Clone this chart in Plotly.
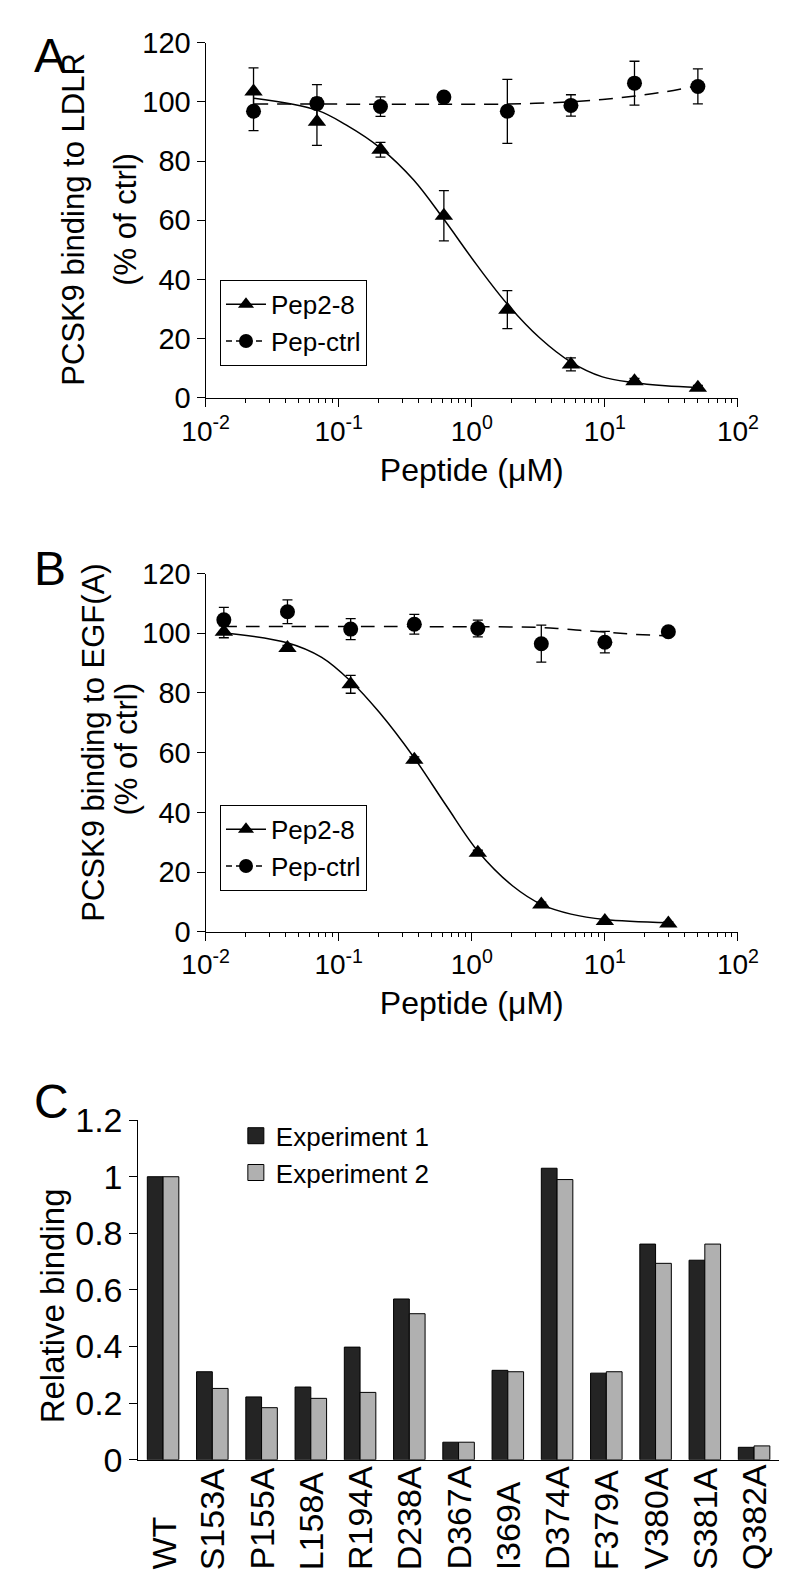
import plotly.graph_objects as go

# ---------------- Panel A data (PCSK9 binding to LDLR) ----------------
conc_a = [0.0229, 0.0686, 0.206, 0.617, 1.85, 5.56, 16.7, 50.0]
pep28_a = [103.5, 93.3, 83.8, 61.5, 29.8, 11.3, 5.6, 3.4]
pep28_a_err = [8.0, 8.0, 2.5, 8.5, 6.4, 2.2, 1.0, 0.8]
ctrl_a = [96.8, 99.4, 98.4, 101.6, 96.8, 98.8, 106.3, 105.2]
ctrl_a_err = [6.5, 6.4, 3.3, 0.8, 10.8, 3.6, 7.4, 5.9]
fit_x_a = [0.0231, 0.0685, 0.1135, 0.207, 0.366, 0.615, 1.086, 1.84, 3.23, 5.56, 9.59, 16.3, 28.5, 49.9]
fit_pep28_a = [101.2, 97.2, 92.2, 84.3, 73.6, 60.4, 45.0, 31.8, 20.3, 12.1, 7.1, 5.2, 4.1, 3.5]
fit_ctrl_x_a = [0.0231, 0.2, 1.5, 3.0, 5.56, 9.6, 16.3, 28.5, 49.9]
fit_ctrl_a = [99.3, 99.2, 99.2, 99.5, 100.0, 100.8, 101.9, 103.4, 105.5]

# ---------------- Panel B data (PCSK9 binding to EGF(A)) ----------------
conc_b = [0.0137, 0.0412, 0.123, 0.370, 1.11, 3.33, 10.0, 30.0]
pep28_b = [100.5, 95.1, 82.9, 57.6, 26.5, 9.1, 3.6, 2.8]
pep28_b_err = [2.0, 0.8, 3.0, 1.0, 0.8, 0.8, 0.5, 0.5]
ctrl_b = [104.5, 107.2, 101.4, 103.0, 101.6, 96.5, 97.0, 100.5]
ctrl_b_err = [4.2, 4.0, 3.5, 3.3, 2.8, 6.2, 3.6, 0.8]
fit_x_b = [0.0134, 0.041, 0.0745, 0.1225, 0.2017, 0.37, 0.644, 1.12, 2.01, 3.39, 5.57, 9.95, 30.5]
fit_pep28_b = [100.2, 96.8, 91.9, 84.0, 73.5, 58.2, 42.2, 26.8, 15.5, 9.0, 5.9, 4.1, 3.0]
fit_ctrl_x_b = [0.0134, 0.5, 3.0, 4.5, 6.5, 10.0, 16.0, 30.5]
fit_ctrl_b = [102.3, 102.2, 102.0, 101.6, 101.0, 100.4, 99.7, 99.1]

# ---------------- Panel C data (relative binding) ----------------
mutants = ["WT", "S153A", "P155A", "L158A", "R194A", "D238A", "D367A",
           "I369A", "D374A", "F379A", "V380A", "S381A", "Q382A"]
exp1 = [1.0, 0.311, 0.222, 0.257, 0.398, 0.568, 0.062, 0.316, 1.030, 0.306, 0.762, 0.705, 0.044]
exp2 = [1.0, 0.252, 0.184, 0.217, 0.238, 0.516, 0.062, 0.311, 0.990, 0.311, 0.694, 0.762, 0.049]

# tick labels
log_tickvals = [0.01, 0.1, 1, 10, 100]
log_ticktext = ["10<sup>-2</sup>", "10<sup>-1</sup>", "10<sup>0</sup>", "10<sup>1</sup>", "10<sup>2</sup>"]
minor_vals = [m * d for d in [0.01, 0.1, 1, 10] for m in range(2, 10)]
pct_ticks = [0, 20, 40, 60, 80, 100, 120]
rel_ticks = [0, 0.2, 0.4, 0.6, 0.8, 1.0, 1.2]
rel_ticktext = ["0", "0.2", "0.4", "0.6", "0.8", "1", "1.2"]

FONT = "Liberation Sans, Arial, sans-serif"
BLACK = "black"
DARK = "#242424"
LIGHT = "#b0b0b0"

fig = go.Figure()


def add_dose_panel(xa, ya, leg, conc, pep, pep_err, ctrl, ctrl_err,
                   fx, fpep, fcx, fctrl):
    # fitted curves
    fig.add_trace(go.Scatter(x=fx, y=fpep, mode="lines", line=dict(color=BLACK, width=1.5, shape="spline"),
                             xaxis=xa, yaxis=ya, showlegend=False, hoverinfo="skip"))
    fig.add_trace(go.Scatter(x=fcx, y=fctrl, mode="lines",
                             line=dict(color=BLACK, width=1.5, dash="14px,9px", shape="spline"),
                             xaxis=xa, yaxis=ya, showlegend=False, hoverinfo="skip"))
    # data points
    fig.add_trace(go.Scatter(x=conc, y=pep, mode="markers",
                             marker=dict(symbol="triangle-up", size=16, color=BLACK),
                             error_y=dict(type="data", array=pep_err, color=BLACK, thickness=1.3, width=5),
                             xaxis=xa, yaxis=ya, showlegend=False))
    fig.add_trace(go.Scatter(x=conc, y=ctrl, mode="markers",
                             marker=dict(symbol="circle", size=15, color=BLACK),
                             error_y=dict(type="data", array=ctrl_err, color=BLACK, thickness=1.3, width=5),
                             xaxis=xa, yaxis=ya, showlegend=False))
    # legend entries
    fig.add_trace(go.Scatter(x=[None], y=[None], mode="lines+markers", name="Pep2-8",
                             line=dict(color=BLACK, width=1.5),
                             marker=dict(symbol="triangle-up", size=14, color=BLACK),
                             xaxis=xa, yaxis=ya, legend=leg))
    fig.add_trace(go.Scatter(x=[None], y=[None], mode="lines+markers", name="Pep-ctrl",
                             line=dict(color=BLACK, width=1.5, dash="6px,4px"),
                             marker=dict(symbol="circle", size=14, color=BLACK),
                             xaxis=xa, yaxis=ya, legend=leg))


add_dose_panel("x", "y", "legend", conc_a, pep28_a, pep28_a_err, ctrl_a, ctrl_a_err,
               fit_x_a, fit_pep28_a, fit_ctrl_x_a, fit_ctrl_a)
add_dose_panel("x2", "y2", "legend2", conc_b, pep28_b, pep28_b_err, ctrl_b, ctrl_b_err,
               fit_x_b, fit_pep28_b, fit_ctrl_x_b, fit_ctrl_b)

# Panel C bars
fig.add_trace(go.Bar(x=mutants, y=exp1, marker=dict(color=DARK, line=dict(color=BLACK, width=1)),
                     xaxis="x3", yaxis="y3", showlegend=False, name="Experiment 1"))
fig.add_trace(go.Bar(x=mutants, y=exp2, marker=dict(color=LIGHT, line=dict(color=BLACK, width=1)),
                     xaxis="x3", yaxis="y3", showlegend=False, name="Experiment 2"))
fig.add_trace(go.Scatter(x=[None], y=[None], mode="markers", name="Experiment 1",
                         marker=dict(symbol="square", size=16, color=DARK, line=dict(color=BLACK, width=1)),
                         xaxis="x3", yaxis="y3", legend="legend3"))
fig.add_trace(go.Scatter(x=[None], y=[None], mode="markers", name="Experiment 2",
                         marker=dict(symbol="square", size=16, color=LIGHT, line=dict(color=BLACK, width=1)),
                         xaxis="x3", yaxis="y3", legend="legend3"))

W = 800.0
H = 1583.0


def px(pix):
    return pix / W


def py(pix):
    return 1 - pix / H


common_x = dict(type="log", range=[-2, 2], tickvals=log_tickvals, ticktext=log_ticktext,
                showline=True, linecolor=BLACK, linewidth=1.3, ticks="outside", ticklen=8,
                tickcolor=BLACK, tickwidth=1.3, showgrid=False, zeroline=False,
                tickfont=dict(size=28, color=BLACK, family=FONT),
                minor=dict(tickvals=minor_vals, ticks="outside", ticklen=4, tickcolor=BLACK, tickwidth=1),
                title=dict(text="Peptide (μM)", font=dict(size=32, color=BLACK, family=FONT), standoff=12))
common_y = dict(range=[0, 120], tickvals=pct_ticks, showline=True, linecolor=BLACK, linewidth=1.3,
                ticks="outside", ticklen=8, tickcolor=BLACK, tickwidth=1.3, showgrid=False, zeroline=False,
                tickfont=dict(size=29, color=BLACK, family=FONT))

legend_common = dict(bgcolor="white", bordercolor=BLACK, borderwidth=1,
                     font=dict(size=26, color=BLACK, family=FONT), xanchor="left", yanchor="top",
                     tracegroupgap=0, itemwidth=40)

fig.update_layout(
    width=800, height=1583,
    margin=dict(l=0, r=0, t=0, b=0),
    paper_bgcolor="white", plot_bgcolor="white",
    font=dict(family=FONT, color=BLACK),
    bargap=0.36, bargroupgap=0,
    xaxis=dict(domain=[0.23, 0.935], anchor="y", **common_x),
    yaxis=dict(domain=[py(380), py(16)], anchor="x", **common_y),
    xaxis2=dict(domain=[0.23, 0.935], anchor="y2", **common_x),
    yaxis2=dict(domain=[py(927), py(560)], anchor="x2", **common_y),
    xaxis3=dict(domain=[0.141, 0.989], anchor="y3", range=[-0.5, 12.5], showline=True,
                linecolor=BLACK, linewidth=1.3, ticks="", showticklabels=False, showgrid=False),
    yaxis3=dict(domain=[py(1468), py(1120)], anchor="x3", range=[0, 1.2], tickvals=rel_ticks,
                ticktext=rel_ticktext, showline=True, linecolor=BLACK, linewidth=1.3,
                ticks="outside", ticklen=8, tickcolor=BLACK, tickwidth=1.3, showgrid=False, zeroline=False,
                tickfont=dict(size=34, color=BLACK, family=FONT)),
    legend=dict(x=0.249, y=py(259), **legend_common),
    legend2=dict(x=0.249, y=py(797), **legend_common),
    legend3=dict(x=0.27, y=py(1112), bgcolor="rgba(0,0,0,0)", borderwidth=0,
                 font=dict(size=26, color=BLACK, family=FONT), xanchor="left", yanchor="top",
                 tracegroupgap=0, itemwidth=30),
)


def vtext(text, xc, yc, size):
    fig.add_annotation(text=text, xref="paper", yref="paper", x=px(xc), y=py(yc),
                       xanchor="center", yanchor="middle", textangle=-90, showarrow=False,
                       font=dict(size=size, color=BLACK, family=FONT))


# y-axis titles (two lines each, placed as in the reference)
vtext("PCSK9 binding to LDLR", 44, 197, 31)
vtext("(% of ctrl)", 99, 197, 31)
vtext("PCSK9 binding to EGF(A)", 65, 733, 31)
vtext("(% of ctrl)", 100, 740, 31)
vtext("Relative binding", 22, 1310, 33)

# panel letters
for letter, ypix in [("A", 0), ("B", 526), ("C", 1072)]:
    fig.add_annotation(text=letter, xref="paper", yref="paper", x=0.0, y=py(ypix),
                       xanchor="left", yanchor="top", showarrow=False,
                       font=dict(size=48, color=BLACK, family=FONT))

# category labels for panel C (rotated, bottom aligned)
for m in mutants:
    fig.add_annotation(text=m, xref="x3", yref="paper", x=m, y=0.0, xanchor="center", yanchor="bottom",
                       textangle=-90, showarrow=False, font=dict(size=34, color=BLACK, family=FONT))

fig.write_html("out.html")
